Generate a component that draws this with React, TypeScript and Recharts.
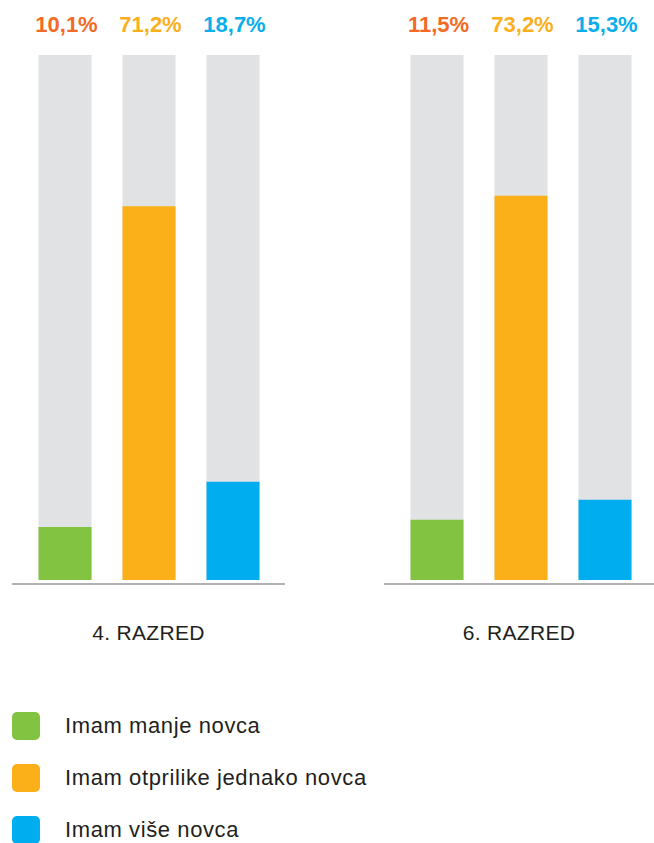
import { BarChart, Bar, XAxis, YAxis, Cell } from 'recharts';

const series = ['Imam manje novca', 'Imam otprilike jednako novca', 'Imam više novca'];
const grade4 = [10.1, 71.2, 18.7];
const grade6 = [11.5, 73.2, 15.3];
const groups = ['4. RAZRED', '6. RAZRED'];

const barColors = ['#82c341', '#fbb01a', '#00aeef'];
const labelColors = ['#f26a25', '#fbaf1c', '#0aaeea'];
const FONT = '"Liberation Sans", Arial, sans-serif';

const fmt = (v: number) => v.toFixed(1).replace('.', ',') + '%';

interface GroupProps {
  title: string;
  values: number[];
  left: number;
  width: number;
  marginRight: number;
  padRight: number;
}

function Group({ title, values, left, width, marginRight, padRight }: GroupProps) {
  const data = series.map((name, i) => ({ name, value: values[i] }));
  const pad = { left: 10.5, right: padRight };

  const TopTick = (props: any) => {
    const { x, y, index } = props;
    return (
      <text
        x={x + 2}
        y={y - 23}
        textAnchor="middle"
        fill={labelColors[index]}
        fontFamily={FONT}
        fontWeight="bold"
        fontSize={22}
      >
        {fmt(values[index])}
      </text>
    );
  };

  const BottomLabel = (props: any) => {
    const vb = props.viewBox;
    return (
      <text
        x={vb.x + vb.width / 2}
        y={vb.y + 60}
        textAnchor="middle"
        fill="#231f20"
        fontFamily={FONT}
        fontSize={21}
        letterSpacing={0.3}
      >
        {title}
      </text>
    );
  };

  return (
    <div style={{ position: 'absolute', left, top: 0 }}>
      <BarChart
        width={width}
        height={660}
        data={data}
        margin={{ top: 0, right: marginRight, bottom: 0, left: 12 }}
      >
        <XAxis
          xAxisId="top"
          orientation="top"
          dataKey="name"
          height={55}
          padding={pad}
          axisLine={false}
          tickLine={false}
          tickSize={0}
          tickMargin={0}
          tick={<TopTick />}
          interval={0}
        />
        <XAxis
          xAxisId="bottom"
          dataKey="name"
          height={80}
          padding={pad}
          tick={false}
          tickLine={false}
          axisLine={{ stroke: '#9a9a9c', strokeWidth: 1.5, transform: 'translate(0,4)' }}
          label={<BottomLabel />}
        />
        <YAxis hide domain={[0, 100]} />
        <Bar
          xAxisId="bottom"
          dataKey="value"
          barSize={53}
          background={{ fill: '#e1e2e4' }}
          isAnimationActive={false}
        >
          {data.map((d, i) => (
            <Cell key={d.name} fill={barColors[i]} />
          ))}
        </Bar>
      </BarChart>
    </div>
  );
}

export default function App() {
  return (
    <div style={{ position: 'absolute', left: 0, top: 0, width: 654, height: 843, overflow: 'hidden', background: '#fff' }}>
      <Group title={groups[0]} values={grade4} left={0} width={300} marginRight={15} padRight={10.5} />
      <Group title={groups[1]} values={grade6} left={372} width={282} marginRight={0} padRight={7.5} />
      <div style={{ position: 'absolute', left: 12, top: 712 }}>
        {series.map((s, i) => (
          <div key={s} style={{ display: 'flex', alignItems: 'center', height: 28, marginBottom: 24 }}>
            <div style={{ width: 28, height: 28, borderRadius: 5, background: barColors[i] }} />
            <span
              style={{
                marginLeft: 25,
                fontFamily: FONT,
                fontSize: 22,
                letterSpacing: 0.6,
                color: '#231f20',
                whiteSpace: 'nowrap',
              }}
            >
              {s}
            </span>
          </div>
        ))}
      </div>
    </div>
  );
}
